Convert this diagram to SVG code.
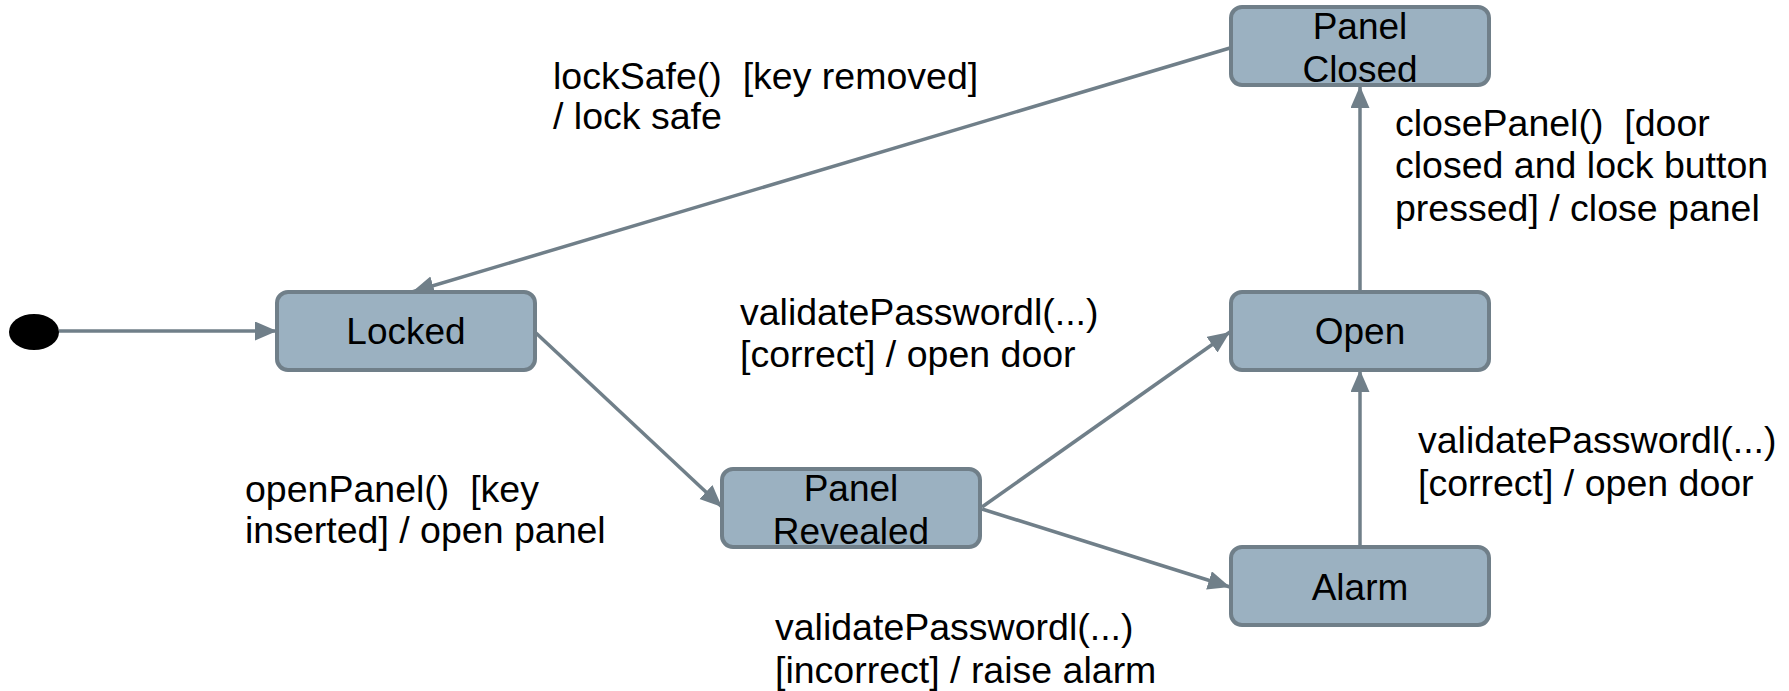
<svg xmlns="http://www.w3.org/2000/svg" width="1789" height="691" viewBox="0 0 1789 691">
  <style>
    .state rect { fill: #9bb1c1; stroke: #707f89; stroke-width: 4; }
    .state text { font-family: "Liberation Sans", Arial, sans-serif; font-size: 37px; fill: #000; text-anchor: middle; }
    .edge { fill: none; stroke: #707f89; stroke-width: 3.5; marker-end: url(#arrow); }
    .label { font-family: "Liberation Sans", Arial, sans-serif; font-size: 37.5px; fill: #000; white-space: pre; }
  </style>
  <defs>
    <marker id="arrow" markerUnits="userSpaceOnUse" markerWidth="24" markerHeight="20" refX="22" refY="9.5" orient="auto">
      <path d="M0,0 L22,9.5 L0,19 z" fill="#707f89"/>
    </marker>
  </defs>
  <rect width="1789" height="691" fill="#ffffff"/>

  <!-- transitions -->
  <g id="connectors">
    <line class="edge" x1="59" y1="331" x2="277" y2="331"/>
    <line class="edge" x1="536" y1="333" x2="722" y2="507"/>
    <line class="edge" x1="982" y1="507" x2="1230" y2="332"/>
    <line class="edge" x1="982" y1="509" x2="1230" y2="587"/>
    <line class="edge" x1="1360" y1="547" x2="1360" y2="370"/>
    <line class="edge" x1="1360" y1="292" x2="1360" y2="86"/>
    <line class="edge" x1="1230" y1="48" x2="412" y2="292"/>
  </g>

  <!-- initial pseudo-state -->
  <g id="initial">
    <ellipse cx="34" cy="332" rx="25" ry="18" fill="#000"/>
  </g>

  <g id="locked" class="state">
    <rect x="277" y="292" width="258" height="78" rx="11"/>
    <text x="406" y="344">Locked</text>
  </g>
  <g id="panel-revealed" class="state">
    <rect x="722" y="469" width="258" height="78" rx="11"/>
    <text x="851" y="501">Panel</text>
    <text x="851" y="544">Revealed</text>
  </g>
  <g id="open" class="state">
    <rect x="1231" y="292" width="258" height="78" rx="11"/>
    <text x="1360" y="344">Open</text>
  </g>
  <g id="alarm" class="state">
    <rect x="1231" y="547" width="258" height="78" rx="11"/>
    <text x="1360" y="600">Alarm</text>
  </g>
  <g id="panel-closed" class="state">
    <rect x="1231" y="7" width="258" height="78" rx="11"/>
    <text x="1360" y="39">Panel</text>
    <text x="1360" y="82">Closed</text>
  </g>

  <!-- transition labels -->
  <g id="labels">
    <text class="label" xml:space="preserve" x="553" y="89">lockSafe()  [key removed]</text>
    <text class="label" x="553" y="129">/ lock safe</text>

    <text class="label" xml:space="preserve" x="1395" y="136">closePanel()  [door</text>
    <text class="label" x="1395" y="178">closed and lock button</text>
    <text class="label" x="1395" y="221">pressed] / close panel</text>

    <text class="label" x="740" y="325">validatePasswordl(...)</text>
    <text class="label" x="740" y="367">[correct] / open door</text>

    <text class="label" xml:space="preserve" x="245" y="502">openPanel()  [key</text>
    <text class="label" x="245" y="543">inserted] / open panel</text>

    <text class="label" x="1418" y="453">validatePasswordl(...)</text>
    <text class="label" x="1418" y="496">[correct] / open door</text>

    <text class="label" x="775" y="640">validatePasswordl(...)</text>
    <text class="label" x="775" y="683">[incorrect] / raise alarm</text>
  </g>
</svg>
